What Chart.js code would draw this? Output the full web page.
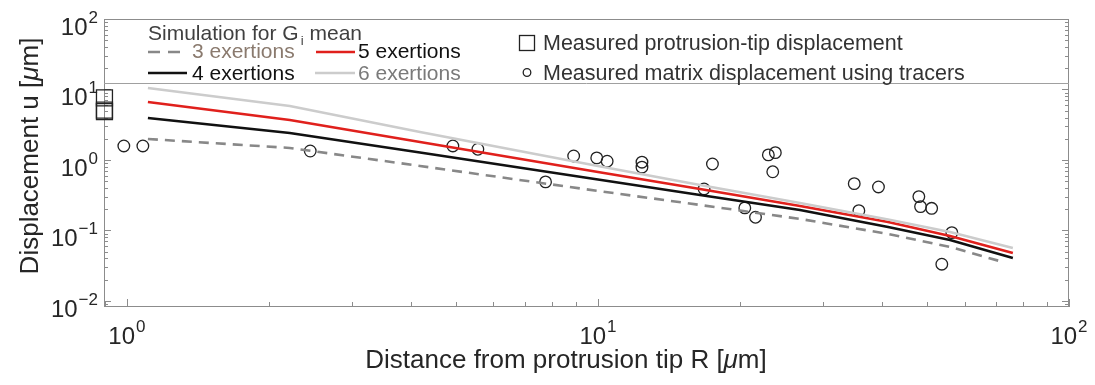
<!DOCTYPE html>
<html>
<head>
<meta charset="utf-8">
<script src="https://cdn.jsdelivr.net/npm/chart.js@4.4.0/dist/chart.umd.min.js"></script>
<style>
  html, body { margin: 0; padding: 0; background: #fff; }
</style>
</head>
<body>
<canvas id="myChart" width="1095" height="385"></canvas>
<script>
// simulated displacement for G_i mean (x = distance R in um)
const simX  = [1.108, 2.217, 4.19, 10, 16.47, 26.85, 41.3, 55.9, 76.0];
const simX3 = [1.108, 2.217, 4.19, 10, 16.47, 26.85, 41.3, 55.9, 72.4];
const exert3 = [1.985, 1.48, 0.822, 0.3634, 0.23, 0.1456, 0.0892, 0.0583, 0.0357];
const exert4 = [3.94, 2.415, 1.273, 0.529, 0.319, 0.195, 0.112, 0.0733, 0.0407];
const exert5 = [6.65, 3.69, 1.80, 0.676, 0.388, 0.2226, 0.132, 0.0835, 0.048];
const exert6 = [10.5, 5.83, 2.50, 0.822, 0.442, 0.2455, 0.1432, 0.0952, 0.0565];

// measured protrusion-tip displacement
const tipX = [0.896, 0.896, 0.896];
const tipY = [7.6, 5.1, 4.85];

// measured matrix displacement using tracers
const tracerX = [0.985, 1.081, 2.45, 4.92, 5.56, 7.74, 8.88, 9.94, 10.46, 12.4, 12.4,
  17.5, 16.8, 20.5, 21.6, 23.0, 23.8, 23.5, 35.0, 35.8, 39.4, 48.0, 48.4, 51.1, 56.4, 53.7];
const tracerY = [1.58, 1.58, 1.34, 1.58, 1.42, 0.488, 1.14, 1.07, 0.96, 0.93, 0.79,
  0.877, 0.388, 0.209, 0.154, 1.18, 1.27, 0.68, 0.461, 0.191, 0.414, 0.302, 0.218, 0.206, 0.093, 0.0332];

// axis ranges and labelled ticks
const xRange = [0.894, 100];
const yRange = [0.0082, 100];
const xTicks = [1, 10, 100];
const yTicks = [0.01, 0.1, 1, 10, 100];

const FONT = "'Liberation Sans', Arial, Helvetica, sans-serif";

function pts(xs, ys) {
  return xs.map((x, i) => ({ x: x, y: ys[i] }));
}

// draws 10^n with a raised exponent
function drawPow(ctx, value, x, y, align) {
  let exp = String(Math.round(Math.log10(value))).replace('-', '\u2212');
  ctx.font = '24px ' + FONT;
  let wb = ctx.measureText('10').width;
  ctx.font = '17px ' + FONT;
  let we = ctx.measureText(exp).width;
  let x0 = align == 'center' ? x - (wb + we + 1) / 2 : x - (wb + we + 1);
  ctx.fillStyle = '#262626';
  ctx.textAlign = 'left';
  ctx.textBaseline = 'alphabetic';
  ctx.font = '24px ' + FONT;
  ctx.fillText('10', x0, y);
  ctx.font = '17px ' + FONT;
  ctx.fillText(exp, x0 + wb + 1, y - 12);
}

// text pieces in a row
function drawRich(ctx, parts, x, y) {
  let cx = x;
  for (let p of parts) {
    ctx.font = (p.italic ? 'italic ' : '') + p.size + 'px ' + FONT;
    ctx.fillText(p.t, cx, y + (p.dy || 0));
    cx += ctx.measureText(p.t).width;
  }
  return cx;
}

function richWidth(ctx, parts) {
  let w = 0;
  for (let p of parts) {
    ctx.font = (p.italic ? 'italic ' : '') + p.size + 'px ' + FONT;
    w += ctx.measureText(p.t).width;
  }
  return w;
}

const axesPlugin = {
  id: 'matlabAxes',
  beforeDatasetsDraw(chart) {
    const { ctx, chartArea: a, scales } = chart;
    const xs = scales.x, ys = scales.y;
    ctx.save();
    ctx.strokeStyle = '#8c8c8c';
    ctx.lineWidth = 1;
    ctx.strokeRect(a.left + 0.5, a.top + 0.5, a.right - a.left - 1, a.bottom - a.top - 1);

    // x ticks (bottom, inward)
    for (let e = -1; e <= 2; e++) {
      for (let m = 1; m <= 9; m++) {
        let v = m * Math.pow(10, e);
        if (v <= xRange[0] || v >= xRange[1] * 1.0001) continue;
        let px = Math.round(xs.getPixelForValue(v)) + 0.5;
        let len = m == 1 ? 8 : 5;
        ctx.beginPath();
        ctx.moveTo(px, a.bottom);
        ctx.lineTo(px, a.bottom - len);
        ctx.stroke();
      }
    }
    // y ticks (left and right, inward)
    for (let e = -3; e <= 2; e++) {
      for (let m = 1; m <= 9; m++) {
        let v = m * Math.pow(10, e);
        if (v <= yRange[0] || v > yRange[1] * 1.0001) continue;
        let py = Math.round(ys.getPixelForValue(v)) + 0.5;
        let len = m == 1 ? 7 : 4;
        ctx.beginPath();
        ctx.moveTo(a.left, py);
        ctx.lineTo(a.left + len, py);
        ctx.moveTo(a.right, py);
        ctx.lineTo(a.right - len, py);
        ctx.stroke();
      }
    }

    // tick labels
    for (let v of xTicks) {
      drawPow(ctx, v, xs.getPixelForValue(v), 344, 'center');
    }
    for (let v of yTicks) {
      drawPow(ctx, v, a.left - 6, ys.getPixelForValue(v) + 16, 'right');
    }

    // axis titles
    ctx.fillStyle = '#262626';
    ctx.textBaseline = 'alphabetic';
    ctx.textAlign = 'left';
    let xt = [
      { t: 'Distance from protrusion tip R [', size: 26 },
      { t: '\u03bc', size: 26, italic: true },
      { t: 'm]', size: 26 }
    ];
    let w = richWidth(ctx, xt);
    drawRich(ctx, xt, 566 - w / 2, 368);

    let yt = [
      { t: 'Displacement u [', size: 26 },
      { t: '\u03bc', size: 26, italic: true },
      { t: 'm]', size: 26 }
    ];
    w = richWidth(ctx, yt);
    ctx.save();
    ctx.translate(38, 156);
    ctx.rotate(-Math.PI / 2);
    drawRich(ctx, yt, -w / 2, 0);
    ctx.restore();
    ctx.restore();
  },
  afterDraw(chart) {
    const { ctx, chartArea: a } = chart;
    ctx.save();
    // legend box bottom edge
    ctx.strokeStyle = '#a0a0a0';
    ctx.lineWidth = 1;
    ctx.beginPath();
    ctx.moveTo(a.left, 83.5);
    ctx.lineTo(a.right, 83.5);
    ctx.stroke();

    ctx.textAlign = 'left';
    ctx.textBaseline = 'alphabetic';
    // title of simulation legend
    ctx.fillStyle = '#404040';
    drawRich(ctx, [
      { t: 'Simulation for G', size: 21 },
      { t: ' ', size: 8 },
      { t: 'i', size: 13, dy: 5 },
      { t: ' mean', size: 21 }
    ], 148, 40);

    const items = [
      { x: 148, x2: 180, y: 52, base: 58, color: '#888888', dash: [12, 8], label: '3 exertions', tc: '#8a7a6e', tx: 192 },
      { x: 316, x2: 355, y: 52, base: 58, color: '#e0201c', dash: [], label: '5 exertions', tc: '#111111', tx: 358 },
      { x: 148, x2: 187, y: 73, base: 80, color: '#111111', dash: [], label: '4 exertions', tc: '#111111', tx: 192 },
      { x: 315, x2: 355, y: 73, base: 80, color: '#cccccc', dash: [], label: '6 exertions', tc: '#7a7a7a', tx: 358 }
    ];
    for (let it of items) {
      ctx.strokeStyle = it.color;
      ctx.lineWidth = 2.5;
      ctx.setLineDash(it.dash);
      ctx.beginPath();
      ctx.moveTo(it.x, it.y);
      ctx.lineTo(it.x2, it.y);
      ctx.stroke();
      ctx.setLineDash([]);
      ctx.fillStyle = it.tc;
      ctx.font = '21px ' + FONT;
      ctx.fillText(it.label, it.tx, it.base);
    }

    // measured data legend
    ctx.strokeStyle = '#222222';
    ctx.lineWidth = 1.3;
    ctx.strokeRect(519.5, 35.5, 15, 15);
    ctx.beginPath();
    ctx.arc(527, 72.5, 3.8, 0, Math.PI * 2);
    ctx.stroke();
    ctx.fillStyle = '#333333';
    ctx.font = '21.5px ' + FONT;
    ctx.fillText('Measured protrusion-tip displacement', 543, 50);
    ctx.fillText('Measured matrix displacement using tracers', 543, 80);
    ctx.restore();
  }
};

const lineStyle = { pointRadius: 0, borderWidth: 2.6, tension: 0, fill: false };

let ctx = document.getElementById('myChart').getContext('2d');
let myChart = new Chart(ctx, {
  type: 'line',
  data: {
    datasets: [
      Object.assign({ label: '6 exertions', data: pts(simX, exert6), borderColor: '#cccccc' }, lineStyle),
      Object.assign({ label: '5 exertions', data: pts(simX, exert5), borderColor: '#e0201c' }, lineStyle),
      Object.assign({ label: '4 exertions', data: pts(simX, exert4), borderColor: '#111111' }, lineStyle),
      Object.assign({ label: '3 exertions', data: pts(simX3, exert3), borderColor: '#888888', borderDash: [10, 7] }, lineStyle),
      {
        label: 'Measured matrix displacement using tracers',
        data: pts(tracerX, tracerY),
        showLine: false,
        pointStyle: 'circle',
        pointRadius: 5.8,
        borderWidth: 1.3,
        borderColor: '#222222',
        backgroundColor: 'rgba(0,0,0,0)'
      },
      {
        label: 'Measured protrusion-tip displacement',
        data: pts(tipX, tipY),
        showLine: false,
        pointStyle: 'rect',
        pointRadius: 11.3,
        borderWidth: 1.3,
        borderColor: '#222222',
        backgroundColor: 'rgba(0,0,0,0)',
        clip: false
      }
    ]
  },
  options: {
    responsive: false,
    animation: false,
    devicePixelRatio: 1,
    events: [],
    layout: { padding: { left: 104, top: 19, right: 26, bottom: 78 } },
    plugins: { legend: { display: false }, tooltip: { enabled: false } },
    scales: {
      x: { type: 'logarithmic', min: xRange[0], max: xRange[1], display: false },
      y: { type: 'logarithmic', min: yRange[0], max: yRange[1], display: false }
    }
  },
  plugins: [axesPlugin]
});
</script>
</body>
</html>
